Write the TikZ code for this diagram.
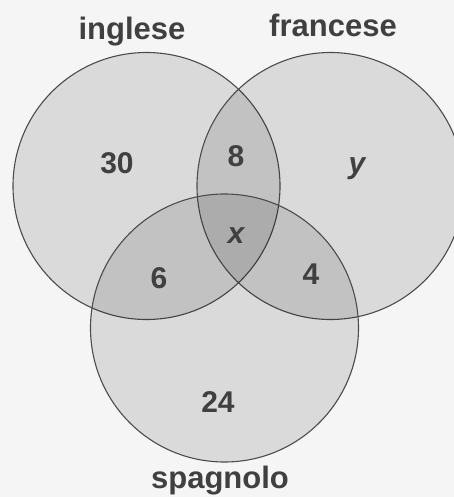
\documentclass[tikz,border=0pt]{standalone}
\usepackage{fontspec}
\setmainfont{Liberation Sans}
\begin{document}
\begin{tikzpicture}[x=1pt,y=-1pt,
  setc/.style={circle,draw=black!70,line width=1.1pt,fill=black,fill opacity=0.11,text opacity=1,minimum size=267pt,inner sep=0pt},
  lab/.style={anchor=base,text=black!75,font=\fontsize{31}{31}\selectfont\bfseries},
  num/.style={anchor=base,text=black!75,font=\fontsize{30}{30}\selectfont\bfseries}]
\useasboundingbox[fill=black!4] (0,0) rectangle (454,497);
\begin{scope}
\clip (0,0) rectangle (454,497);
\node[setc] (ing) at (146.5,186) {};
\node[setc] (fra) at (330.5,186) {};
\node[setc,minimum size=268pt] (spa) at (224.5,328) {};
\end{scope}
\node[lab] (lI) at (132,40) {inglese};
\node[lab] (lF) at (333,37) {francese};
\node[lab] (lS) at (220,488) {spagnolo};
\node[num] (n30) at (117,173) {30};
\node[num] (n8) at (236,167) {8};
\node[num] (ny) at (357,173) {\itshape y};
\node[num] (nx) at (236,243) {\itshape x};
\node[num] (n6) at (159,288) {6};
\node[num] (n4) at (311,284) {4};
\node[num] (n24) at (218,412) {24};
\end{tikzpicture}
\end{document}
